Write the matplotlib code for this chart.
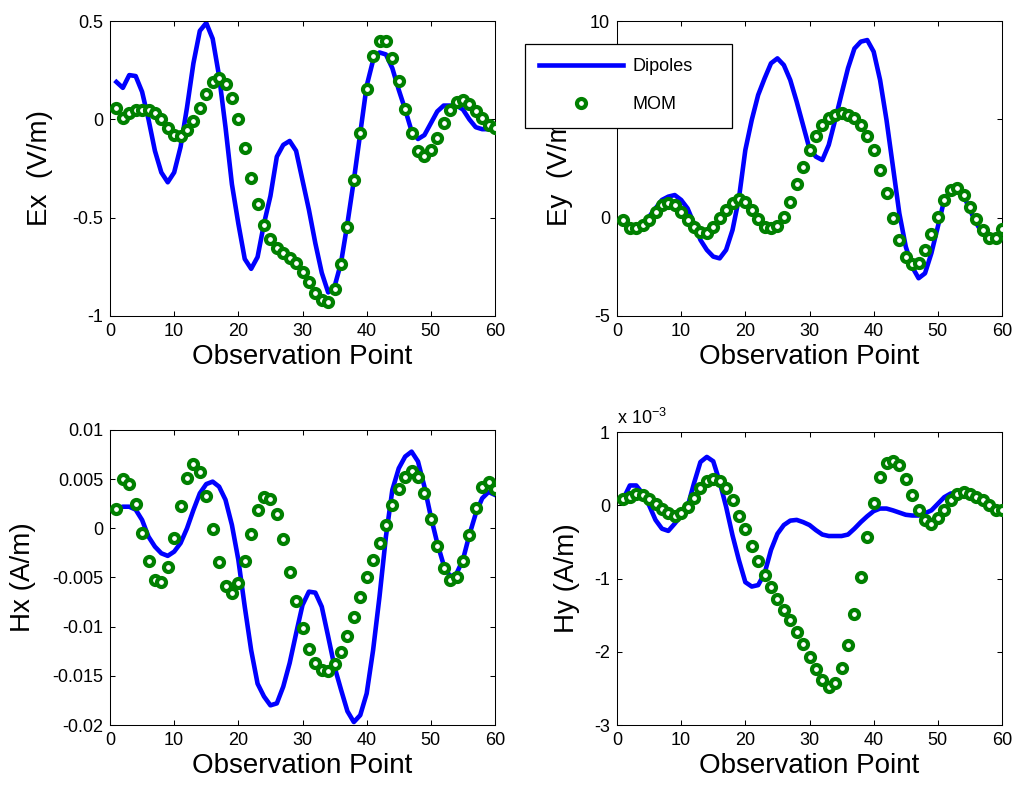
import numpy as np
import matplotlib
matplotlib.use("Agg")
import matplotlib.pyplot as plt
from matplotlib.ticker import FuncFormatter

plt.rcParams['font.family'] = ['Liberation Sans', 'DejaVu Sans']
plt.rcParams['mathtext.fontset'] = 'custom'
plt.rcParams['mathtext.rm'] = 'Liberation Sans'
plt.rcParams['mathtext.it'] = 'Liberation Sans'
plt.rcParams['axes.unicode_minus'] = False

#%% data (observation points 1..60)
points = np.arange(1, 61)

ex_dipoles = [0.19, 0.16, 0.225, 0.22, 0.14, 0.0, -0.16, -0.27, -0.32, -0.27,
              -0.14, 0.06, 0.285, 0.45, 0.49, 0.41, 0.22, -0.04, -0.33, -0.53,
              -0.71, -0.76, -0.70, -0.53, -0.39, -0.19, -0.13, -0.11, -0.16, -0.31,
              -0.46, -0.63, -0.78, -0.88, -0.85, -0.73, -0.53, -0.31, -0.07, 0.17,
              0.30, 0.34, 0.33, 0.26, 0.15, 0.05, -0.06, -0.10, -0.08, -0.02,
              0.04, 0.07, 0.07, 0.07, 0.05, 0.0, -0.04, -0.05, -0.05, -0.05]
ex_mom = [0.06, 0.005, 0.03, 0.045, 0.05, 0.05, 0.03, 0.0, -0.045, -0.08,
          -0.085, -0.055, -0.01, 0.06, 0.13, 0.19, 0.21, 0.18, 0.11, 0.0,
          -0.147, -0.297, -0.43, -0.537, -0.61, -0.656, -0.68, -0.706, -0.73, -0.775,
          -0.825, -0.885, -0.92, -0.93, -0.865, -0.735, -0.545, -0.31, -0.07, 0.155,
          0.32, 0.40, 0.40, 0.31, 0.195, 0.053, -0.07, -0.16, -0.185, -0.155,
          -0.093, -0.02, 0.05, 0.09, 0.10, 0.08, 0.04, 0.005, -0.03, -0.045]

ey_dipoles = [-0.2, -0.45, -0.42, -0.3, 0.05, 0.47, 0.9, 1.07, 1.15, 0.9,
              0.47, -0.3, -1.13, -1.64, -1.98, -2.07, -1.64, -0.63, 0.98, 3.44,
              4.97, 6.24, 7.08, 7.85, 8.1, 7.76, 7.0, 5.9, 4.7, 3.5,
              3.1, 2.93, 3.7, 4.97, 6.3, 7.6, 8.6, 8.95, 9.03, 8.44,
              7.0, 4.97, 2.6, 0.22, -1.47, -2.5, -3.08, -2.83, -1.8, -0.46,
              0.9, 1.4, 1.58, 1.15, 0.39, -0.29, -0.8, -1.05, -1.05, -0.7]
ey_mom = [-0.12, -0.54, -0.54, -0.37, -0.12, 0.3, 0.64, 0.73, 0.64, 0.3,
          -0.12, -0.46, -0.71, -0.76, -0.46, -0.03, 0.39, 0.76, 0.93, 0.81,
          0.39, -0.08, -0.46, -0.54, -0.42, 0.05, 0.81, 1.7, 2.6, 3.44,
          4.15, 4.7, 5.05, 5.22, 5.3, 5.22, 5.05, 4.7, 4.15, 3.44,
          2.42, 1.24, 0.0, -1.14, -1.98, -2.36, -2.32, -1.64, -0.83, 0.05,
          0.9, 1.4, 1.49, 1.15, 0.53, -0.08, -0.63, -1.02, -1.02, -0.58]

# Hx in units of 1e-3 A/m
hx_dipoles = [2.0, 2.2, 2.2, 1.9, 0.85, -0.85, -1.86, -2.54, -2.8, -2.37,
              -1.5, 0.0, 1.86, 3.56, 4.5, 4.75, 4.24, 2.9, 0.34, -3.2,
              -7.97, -12.4, -15.8, -17.1, -18.0, -17.8, -16.1, -13.7, -10.7, -7.8,
              -6.44, -6.54, -7.97, -11.0, -14.1, -16.4, -18.6, -19.7, -19.0, -16.8,
              -12.4, -6.95, -0.85, 3.9, 6.1, 7.3, 7.8, 6.8, 4.24, 1.19,
              -1.5, -3.73, -4.9, -4.6, -3.2, -0.68, 1.5, 3.05, 3.7, 3.4]
hx_mom = [1.93, 5.0, 4.5, 2.44, -0.44, -3.3, -5.3, -5.5, -3.9, -1.0,
          2.27, 5.1, 6.5, 5.7, 3.3, -0.1, -3.46, -5.83, -6.54, -5.6,
          -3.3, -0.6, 1.86, 3.15, 2.95, 1.42, -1.12, -4.4, -7.4, -10.17,
          -12.3, -13.66, -14.4, -14.5, -13.8, -12.6, -10.95, -9.0, -7.0, -5.0,
          -3.2, -1.46, 0.34, 2.34, 4.03, 5.25, 5.86, 5.25, 3.56, 0.95,
          -1.8, -4.07, -5.25, -4.9, -3.3, -0.68, 2.03, 4.17, 4.75, 4.0]

# Hy in units of 1e-3 A/m
hy_dipoles = [0.09, 0.27, 0.27, 0.16, 0.0, -0.2, -0.32, -0.35, -0.25, -0.14,
              -0.02, 0.3, 0.59, 0.66, 0.6, 0.32, -0.02, -0.41, -0.75, -1.05,
              -1.11, -1.09, -0.93, -0.61, -0.39, -0.27, -0.21, -0.2, -0.23, -0.27,
              -0.34, -0.4, -0.42, -0.42, -0.42, -0.4, -0.32, -0.23, -0.15, -0.08,
              -0.045, -0.045, -0.07, -0.1, -0.13, -0.14, -0.14, -0.11, -0.07, 0.02,
              0.11, 0.16, 0.17, 0.16, 0.14, 0.09, 0.05, -0.01, -0.045, -0.07]
hy_mom = [0.09, 0.11, 0.16, 0.14, 0.09, 0.02, -0.05, -0.11, -0.14, -0.11,
          -0.02, 0.1, 0.24, 0.33, 0.36, 0.33, 0.23, 0.07, -0.14, -0.33,
          -0.56, -0.76, -0.95, -1.11, -1.28, -1.43, -1.57, -1.73, -1.89, -2.07,
          -2.23, -2.39, -2.48, -2.42, -2.22, -1.91, -1.48, -0.98, -0.43, 0.03,
          0.39, 0.57, 0.61, 0.55, 0.36, 0.14, -0.07, -0.2, -0.25, -0.18,
          -0.07, 0.07, 0.15, 0.18, 0.16, 0.11, 0.07, 0.01, -0.06, -0.07]

#%% figure
W, H = 1016, 789
fig = plt.figure(figsize=(W / 100, H / 100), dpi=100)

def box(l, t, r, b):
    return [l / W, 1 - b / H, (r - l) / W, (b - t) / H]

ax1 = fig.add_axes(box(110, 21, 495, 316))
ax2 = fig.add_axes(box(617, 21, 1002, 316))
ax3 = fig.add_axes(box(110, 430, 495, 725))
ax4 = fig.add_axes(box(617, 432, 1002, 725))

panels = [
    (ax1, ex_dipoles, ex_mom, 1, 'Ex  (V/m)', (-1, 0.5), [-1, -0.5, 0, 0.5], -0.148),
    (ax2, ey_dipoles, ey_mom, 1, 'Ey  (V/m)', (-5, 10), [-5, 0, 5, 10], -0.114),
    (ax3, hx_dipoles, hx_mom, 1e-3, 'Hx (A/m)', (-0.02, 0.01),
     [-0.02, -0.015, -0.01, -0.005, 0, 0.005, 0.01], -0.192),
    (ax4, hy_dipoles, hy_mom, 1, 'Hy (A/m)', (-3, 1), [-3, -2, -1, 0, 1], -0.096),
]

fmt = FuncFormatter(lambda v, p: '%g' % round(v, 6))

for ax, dip, mom, scale, ylab, ylim, yticks, lx in panels:
    ax.plot(points, np.array(dip) * scale, color='blue', lw=3.3, label='Dipoles', zorder=2)
    ax.plot(points, np.array(mom) * scale, ls='none', marker='o', ms=6.5,
            mec=(0, 0.5, 0), mfc='white', mew=3, label='MOM', zorder=3)
    ax.set_xlim(0, 60)
    ax.set_ylim(*ylim)
    ax.set_xticks(range(0, 61, 10))
    ax.set_yticks(yticks)
    ax.yaxis.set_major_formatter(fmt)
    ax.tick_params(direction='in', top=True, right=True, length=3.5, width=0.75,
                   labelsize=13, pad=5)
    for s in ax.spines.values():
        s.set_linewidth(0.75)
    ax.set_xlabel('Observation Point', fontsize=20, labelpad=3)
    ax.set_ylabel(ylab, fontsize=20)
    ax.yaxis.set_label_coords(lx, 0.5)

ax4.text(0, 1.012, r'x 10$^{-3}$', transform=ax4.transAxes, fontsize=13,
         ha='left', va='bottom')

h, l = ax1.get_legend_handles_labels()
leg = fig.legend(h, l, loc='upper left', mode='expand', borderaxespad=0,
                 bbox_to_anchor=(525 / W, 1 - 128 / H, 207 / W, 84 / H),
                 fontsize=13, handlelength=4.6, handletextpad=0.55,
                 labelspacing=1.15, borderpad=0.8, numpoints=1,
                 fancybox=False, framealpha=1, edgecolor='black')
leg.get_frame().set_linewidth(0.9)

fig.savefig('out.png', dpi=100)
